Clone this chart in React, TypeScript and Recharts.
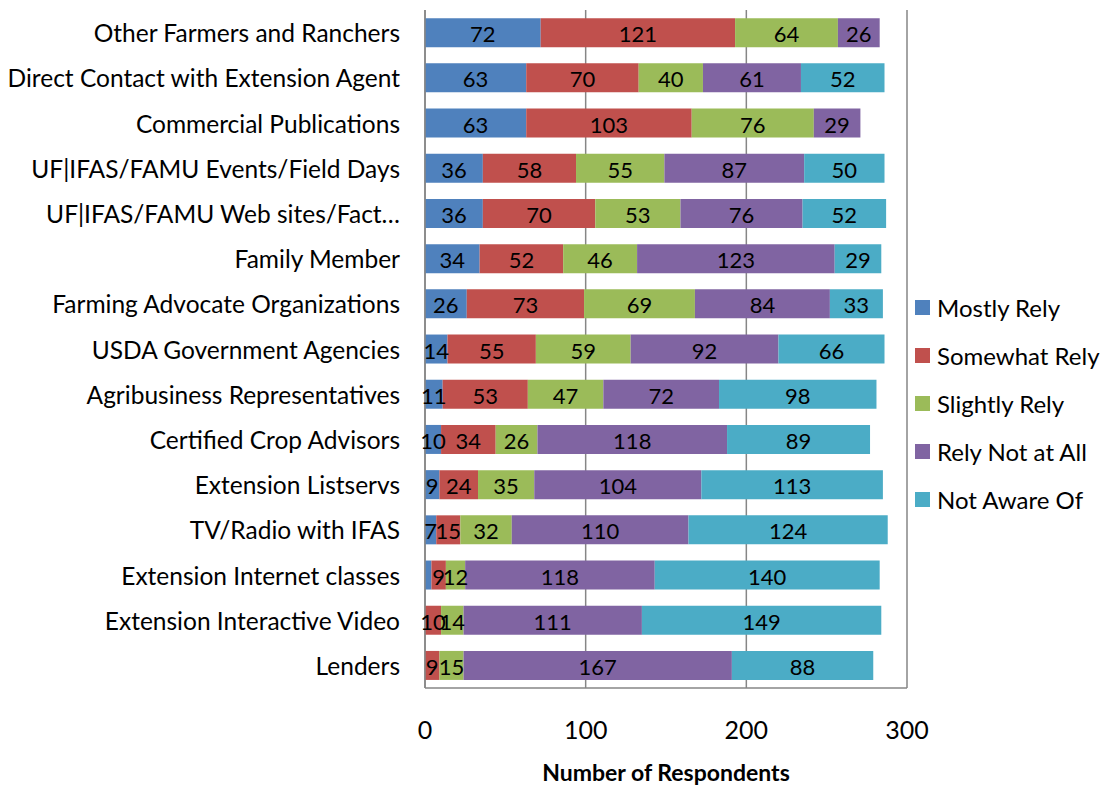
import React from 'react';
import {
  BarChart,
  Bar,
  XAxis,
  YAxis,
  CartesianGrid,
  LabelList,
  Label,
} from 'recharts';

const categories = [
  'Other Farmers and Ranchers',
  'Direct Contact with Extension Agent',
  'Commercial Publications',
  'UF|IFAS/FAMU Events/Field Days',
  'UF|IFAS/FAMU Web sites/Fact…',
  'Family Member',
  'Farming Advocate Organizations',
  'USDA Government Agencies',
  'Agribusiness Representatives',
  'Certified Crop Advisors',
  'Extension Listservs',
  'TV/Radio with IFAS',
  'Extension Internet classes',
  'Extension Interactive Video',
  'Lenders',
];

const mostlyRely = [72, 63, 63, 36, 36, 34, 26, 14, 11, 10, 9, 7, 4, null, null];
const somewhatRely = [121, 70, 103, 58, 70, 52, 73, 55, 53, 34, 24, 15, 9, 10, 9];
const slightlyRely = [64, 40, 76, 55, 53, 46, 69, 59, 47, 26, 35, 32, 12, 14, 15];
const relyNotAtAll = [26, 61, 29, 87, 76, 123, 84, 92, 72, 118, 104, 110, 118, 111, 167];
const notAwareOf = [null, 52, null, 50, 52, 29, 33, 66, 98, 89, 113, 124, 140, 149, 88];

const xTicks = [0, 100, 200, 300];

const series = [
  { key: 'mostly', name: 'Mostly Rely', color: '#4F81BD' },
  { key: 'somewhat', name: 'Somewhat Rely', color: '#C0504D' },
  { key: 'slightly', name: 'Slightly Rely', color: '#9BBB59' },
  { key: 'notAtAll', name: 'Rely Not at All', color: '#8064A2' },
  { key: 'notAware', name: 'Not Aware Of', color: '#4BACC6' },
];

const rows = categories.map((category, i) => ({
  category,
  mostly: mostlyRely[i],
  somewhat: somewhatRely[i],
  slightly: slightlyRely[i],
  notAtAll: relyNotAtAll[i],
  notAware: notAwareOf[i],
}));

const FONT = 'Lato, "Open Sans", sans-serif';
const GRID = '#868686';

const CategoryTick = (props: any) => {
  const { y, payload } = props;
  return (
    <text x={400} y={y} textAnchor="end" dominantBaseline="central" fontSize={24.5} fill="#000" fontFamily={FONT}>
      {payload.value}
    </text>
  );
};

const ValueTick = (props: any) => {
  const { x, y, payload } = props;
  return (
    <text x={x} y={y + 33} textAnchor="middle" dominantBaseline="central" fontSize={25} fill="#000" fontFamily={FONT}>
      {payload.value}
    </text>
  );
};

// small segments (under 5) are left unlabeled
const SegmentLabel = (props: any) => {
  const { x, y, width, height, value } = props;
  if (value == null || value < 5) return null;
  return (
    <text
      x={x + width / 2}
      y={y + height / 2 + 1}
      textAnchor="middle"
      dominantBaseline="central"
      fontSize={22}
      fill="#000"
      fontFamily={FONT}
    >
      {value}
    </text>
  );
};

export default function App() {
  return (
    <div style={{ position: 'absolute', left: 0, top: 0, width: 1105, height: 786, background: '#fff' }}>
      <BarChart
        width={1105}
        height={786}
        data={rows}
        layout="vertical"
        margin={{ top: 10, right: 198, bottom: 0, left: 0 }}
        barCategoryGap="18%"
      >
        <CartesianGrid horizontal={false} stroke={GRID} strokeWidth={1.5} />
        <XAxis
          type="number"
          domain={[0, 300]}
          ticks={xTicks}
          tick={<ValueTick />}
          tickLine={false}
          axisLine={{ stroke: GRID, strokeWidth: 1.5 }}
          height={98}
        >
          <Label
            value="Number of Respondents"
            position="insideBottom"
            offset={5}
            style={{ fontSize: 23, fontWeight: 'bold', fill: '#000', fontFamily: FONT }}
          />
        </XAxis>
        <YAxis
          type="category"
          dataKey="category"
          width={425}
          tick={<CategoryTick />}
          tickLine={false}
          axisLine={{ stroke: GRID, strokeWidth: 1.5 }}
          interval={0}
        />
        {series.map((s) => (
          <Bar key={s.key} dataKey={s.key} name={s.name} stackId="a" fill={s.color} isAnimationActive={false}>
            <LabelList dataKey={s.key} content={<SegmentLabel />} />
          </Bar>
        ))}
      </BarChart>
      <div style={{ position: 'absolute', left: 915, top: 283, fontFamily: FONT, fontSize: 24 }}>
        {series.map((s) => (
          <div key={s.key} style={{ display: 'flex', alignItems: 'center', height: 48 }}>
            <span style={{ width: 15, height: 15, background: s.color, display: 'inline-block', marginRight: 7 }} />
            <span>{s.name}</span>
          </div>
        ))}
      </div>
    </div>
  );
}
